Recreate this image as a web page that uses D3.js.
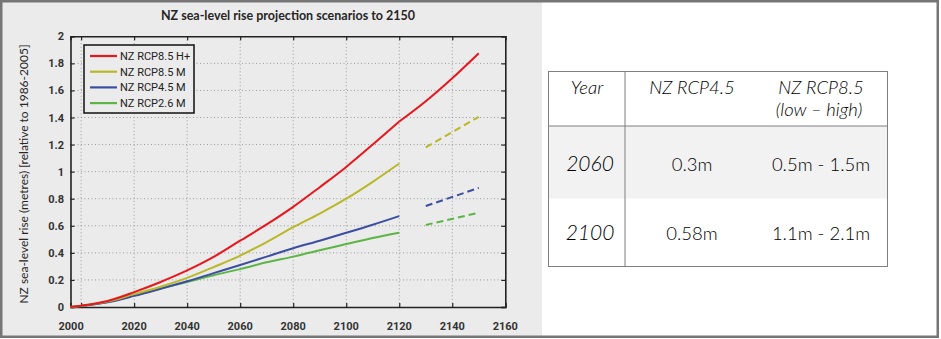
<!DOCTYPE html>
<html><head><meta charset="utf-8">
<script src="https://cdn.jsdelivr.net/npm/d3@7"></script>
<style>
body{margin:0;background:#fff;}
svg{display:block;}
</style></head>
<body>
<svg id="c" width="941" height="339"></svg>
<script>
// ---------- data ----------
const title = "NZ sea-level rise projection scenarios to 2150";
const yLabel = "NZ sea-level rise (metres) [relative to 1986-2005]";
const seriesNames = ["NZ RCP8.5 H+", "NZ RCP8.5 M", "NZ RCP4.5 M", "NZ RCP2.6 M"];
const seriesColors = ["#e8161d", "#b9b828", "#3b4ea2", "#5cb545"];

const yearsSolid = [1996, 2000, 2010, 2020, 2030, 2040, 2050, 2060, 2070, 2080, 2090, 2100, 2110, 2120];
const yearsRedExt = [2120, 2130, 2140, 2150];
const yearsDashed = [2130, 2150];

const redSolid    = [0, 0.01, 0.045, 0.11, 0.185, 0.27, 0.37, 0.49, 0.61, 0.74, 0.885, 1.035, 1.20, 1.37];
const redExt      = [1.37, 1.52, 1.69, 1.875];
const yellowSolid = [0, 0.01, 0.04, 0.095, 0.15, 0.215, 0.295, 0.38, 0.48, 0.59, 0.69, 0.80, 0.925, 1.06];
const blueSolid   = [0, 0.008, 0.035, 0.082, 0.135, 0.19, 0.25, 0.31, 0.372, 0.434, 0.49, 0.548, 0.608, 0.672];
const greenSolid  = [0, 0.008, 0.037, 0.085, 0.135, 0.185, 0.235, 0.28, 0.33, 0.372, 0.42, 0.465, 0.51, 0.549];
const yellowDashed = [1.18, 1.405];
const blueDashed   = [0.746, 0.88];
const greenDashed  = [0.606, 0.697];

const xTicks = [2000, 2020, 2040, 2060, 2080, 2100, 2120, 2140, 2160];
const yTicks = [0, 0.2, 0.4, 0.6, 0.8, 1, 1.2, 1.4, 1.6, 1.8, 2];

const tableHeader = [["Year"], ["NZ RCP4.5"], ["NZ RCP8.5", "(low \u2013 high)"]];
const tableYears = ["2060", "2100"];
const tableRcp45 = ["0.3m", "0.58m"];
const tableRcp85 = ["0.5m - 1.5m", "1.1m - 2.1m"];

// ---------- layout ----------
const svg = d3.select("#c");
const L = 70.5, R = 505.3, T = 36.3, B = 307;
const x = d3.scaleLinear().domain([1996, 2160]).range([L, R]);
const y = d3.scaleLinear().domain([0, 2]).range([B, T]);

// panel background
svg.append("rect").attr("x", 2).attr("y", 2).attr("width", 540).attr("height", 334).attr("fill", "#ebebeb");

// title
svg.append("text").attr("x", 288).attr("y", 19.5).attr("text-anchor", "middle")
  .attr("font-family", "Lato, 'Open Sans', sans-serif").attr("font-weight", "bold")
  .attr("font-size", "12.5px").attr("fill", "#262626").text(title);

// y label
svg.append("text").attr("transform", "translate(27.5,174) rotate(-90)").attr("text-anchor", "middle")
  .attr("font-family", "Lato, 'Open Sans', sans-serif").attr("font-size", "12px").attr("fill", "#262626")
  .text(yLabel);

// grid
const grid = svg.append("g").attr("stroke", "#9a9a9a").attr("stroke-width", 1).attr("stroke-dasharray", "1,2.5");
grid.selectAll("line.v").data(xTicks.slice(0, -1)).join("line")
  .attr("x1", d => x(d)).attr("x2", d => x(d)).attr("y1", T).attr("y2", B);
grid.selectAll("line.h").data(yTicks.slice(1, -1)).join("line")
  .attr("x1", L).attr("x2", R).attr("y1", d => y(d)).attr("y2", d => y(d));

// axes (inward ticks)
const tickFont = "Roboto, 'Liberation Sans Narrow', sans-serif";
const axB = svg.append("g").attr("transform", `translate(0,${B})`)
  .call(d3.axisTop(x).tickValues(xTicks).tickSize(4).tickFormat(""));
const axT = svg.append("g").attr("transform", `translate(0,${T})`)
  .call(d3.axisBottom(x).tickValues(xTicks).tickSize(4).tickFormat(""));
const axL = svg.append("g").attr("transform", `translate(${L},0)`)
  .call(d3.axisRight(y).tickValues(yTicks).tickSize(4).tickFormat(""));
const axR = svg.append("g").attr("transform", `translate(${R},0)`)
  .call(d3.axisLeft(y).tickValues(yTicks).tickSize(4).tickFormat(""));
[axB, axT, axL, axR].forEach(g => {
  g.select(".domain").attr("stroke", "#222").attr("stroke-width", 1.6);
  g.selectAll(".tick line").attr("stroke", "#222").attr("stroke-width", 1.2);
});

// tick labels
const xLab = svg.append("g").attr("font-family", tickFont).attr("font-weight", "bold")
  .attr("font-size", "11px").attr("fill", "#333").attr("text-anchor", "middle");
xLab.selectAll("text").data(xTicks).join("text")
  .attr("x", (d, i) => x(d) + (i === 0 ? -10 : 0)).attr("y", 330).text(d => d);
const yLab = svg.append("g").attr("font-family", tickFont).attr("font-weight", "bold")
  .attr("font-size", "11px").attr("fill", "#333").attr("text-anchor", "end");
yLab.selectAll("text").data(yTicks).join("text")
  .attr("x", 64).attr("y", d => y(d) + 4).text(d => d3.format("~g")(d));

// lines
const line = d3.line().x(d => x(d[0])).y(d => y(d[1])).curve(d3.curveMonotoneX);
const zip = (a, b) => a.map((v, i) => [v, b[i]]);
const plot = svg.append("g").attr("fill", "none").attr("stroke-width", 2).attr("stroke-linecap", "butt");
const solids = [
  [zip(yearsSolid, greenSolid), seriesColors[3]],
  [zip(yearsSolid, blueSolid), seriesColors[2]],
  [zip(yearsSolid, yellowSolid), seriesColors[1]],
  [zip(yearsSolid, redSolid), seriesColors[0]],
  [zip(yearsRedExt, redExt), seriesColors[0]]
];
solids.forEach(([d, c]) => plot.append("path").attr("d", line(d)).attr("stroke", c));
const dashed = [
  [zip(yearsDashed, yellowDashed), seriesColors[1]],
  [zip(yearsDashed, blueDashed), seriesColors[2]],
  [zip(yearsDashed, greenDashed), seriesColors[3]]
];
dashed.forEach(([d, c]) => plot.append("path").attr("d", line(d)).attr("stroke", c).attr("stroke-dasharray", "7,4"));

// legend
const lg = svg.append("g");
lg.append("rect").attr("x", 84).attr("y", 45).attr("width", 110).attr("height", 68)
  .attr("fill", "#ebebeb").attr("stroke", "#111").attr("stroke-width", 1.5);
seriesNames.forEach((n, i) => {
  const yy = 56 + i * 15.7;
  lg.append("line").attr("x1", 90).attr("x2", 117).attr("y1", yy).attr("y2", yy)
    .attr("stroke", seriesColors[i]).attr("stroke-width", 2.2);
  lg.append("text").attr("x", 120).attr("y", yy + 4).attr("font-family", tickFont)
    .attr("font-size", "11px").attr("fill", "#222").text(n);
});

// ---------- table ----------
const tb = svg.append("g");
const tL = 548.5, tR = 887.5, tT = 71.5, tH = 126, tM = 198.5, tBt = 266.5, tC1 = 625;
const colCenters = [587, 692, 821];
tb.append("rect").attr("x", tL).attr("y", tH).attr("width", tR - tL).attr("height", tM - tH).attr("fill", "#f2f2f2");
tb.append("rect").attr("x", tL).attr("y", tT).attr("width", tR - tL).attr("height", tBt - tT)
  .attr("fill", "none").attr("stroke", "#7f7f7f").attr("stroke-width", 1);
tb.append("line").attr("x1", tL).attr("x2", tR).attr("y1", tH).attr("y2", tH).attr("stroke", "#7f7f7f");
tb.append("line").attr("x1", tC1).attr("x2", tC1).attr("y1", tT).attr("y2", tBt).attr("stroke", "#7f7f7f");
const tFont = "Lato, 'Open Sans', sans-serif";
tableHeader.forEach((lines, ci) => {
  lines.forEach((t, li) => {
    tb.append("text").attr("x", colCenters[ci] + (li === 1 ? -2 : 0)).attr("y", 94 + li * 22)
      .attr("text-anchor", "middle").attr("font-family", tFont).attr("font-weight", 300)
      .attr("font-style", "italic")
      .attr("font-size", "18.5px").attr("fill", "#000").text(t);
  });
});
const rowBase = [171, 240];
tableYears.forEach((t, ri) => {
  tb.append("text").attr("x", colCenters[0] + 3).attr("y", rowBase[ri]).attr("text-anchor", "middle")
    .attr("font-family", tFont).attr("font-weight", 300).attr("font-style", "italic")
    .attr("font-size", "21px").attr("fill", "#000").text(t);
  tb.append("text").attr("x", colCenters[1]).attr("y", rowBase[ri]).attr("text-anchor", "middle")
    .attr("font-family", tFont).attr("font-weight", 300)
    .attr("font-size", "18.5px").attr("fill", "#000").text(tableRcp45[ri]);
  tb.append("text").attr("x", colCenters[2]).attr("y", rowBase[ri]).attr("text-anchor", "middle")
    .attr("font-family", tFont).attr("font-weight", 300)
    .attr("font-size", "18.5px").attr("fill", "#000").text(tableRcp85[ri]);
});

// outer frame
svg.append("rect").attr("x", 1.25).attr("y", 1.25).attr("width", 936.5).attr("height", 335.5)
  .attr("fill", "none").attr("stroke", "#767676").attr("stroke-width", 2.5);
</script>
</body></html>
